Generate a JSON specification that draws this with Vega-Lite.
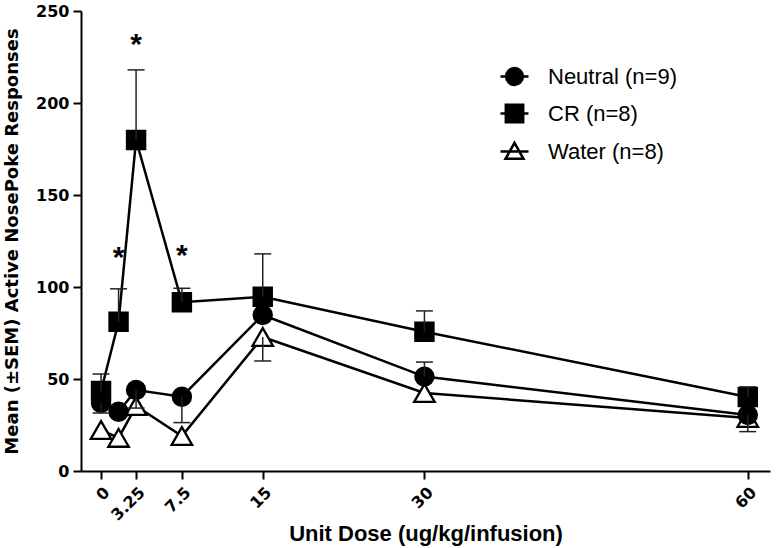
{
  "$schema": "https://vega.github.io/schema/vega-lite/v6.json",
  "width": 689,
  "height": 460,
  "autosize": {"type": "none"},
  "padding": {"left": 81, "top": 11, "right": 6, "bottom": 77},
  "background": "white",
  "config": {"view": {"stroke": null}, "font": "Liberation Sans"},
  "datasets": {
    "pts": [
      {"series": "Water (n=8)", "dose": 0, "mean": 22.3, "err": null},
      {"series": "Water (n=8)", "dose": 1.625, "mean": 18, "err": null},
      {"series": "Water (n=8)", "dose": 3.25, "mean": 35.3, "err": null},
      {"series": "Water (n=8)", "dose": 7.5, "mean": 19, "err": null},
      {"series": "Water (n=8)", "dose": 15, "mean": 72.8, "err": 59.8},
      {"series": "Water (n=8)", "dose": 30, "mean": 42.4, "err": null},
      {"series": "Water (n=8)", "dose": 60, "mean": 28.8, "err": null},
      {"series": "CR (n=8)", "dose": 0, "mean": 43.5, "err": 52.7},
      {"series": "CR (n=8)", "dose": 1.625, "mean": 81.1, "err": 99},
      {"series": "CR (n=8)", "dose": 3.25, "mean": 179.9, "err": 218},
      {"series": "CR (n=8)", "dose": 7.5, "mean": 91.7, "err": 99.3},
      {"series": "CR (n=8)", "dose": 15, "mean": 94.7, "err": 118},
      {"series": "CR (n=8)", "dose": 30, "mean": 75.7, "err": 87},
      {"series": "CR (n=8)", "dose": 60, "mean": 40.2, "err": 45.7},
      {"series": "Neutral (n=9)", "dose": 0, "mean": 37, "err": 31.5},
      {"series": "Neutral (n=9)", "dose": 1.625, "mean": 32.2, "err": null},
      {"series": "Neutral (n=9)", "dose": 3.25, "mean": 44, "err": 34.2},
      {"series": "Neutral (n=9)", "dose": 7.5, "mean": 40.4, "err": 26.3},
      {"series": "Neutral (n=9)", "dose": 15, "mean": 84.8, "err": null},
      {"series": "Neutral (n=9)", "dose": 30, "mean": 51.3, "err": 59.2},
      {"series": "Neutral (n=9)", "dose": 60, "mean": 30.4, "err": 21.4}
    ],
    "stars": [
      {"dose": 1.625, "mean": 119, "label": "*"},
      {"dose": 3.25, "mean": 234.6, "label": "*"},
      {"dose": 7.5, "mean": 120, "label": "*"}
    ]
  },
  "layer": [
    {
      "data": {"name": "pts"},
      "mark": {"type": "line", "color": "black", "strokeWidth": 2.5},
      "encoding": {
        "x": {
          "field": "dose", "type": "quantitative",
          "scale": {"domain": [-1.86, 62.06], "nice": false, "zero": false},
          "axis": {
            "values": [0, 3.25, 7.5, 15, 30, 60],
            "labelExpr": "'' + datum.value",
            "labelAngle": -45,
            "labelOverlap": false,
            "labelFlush": false,
            "labelFont": "DejaVu Sans",
            "labelFontSize": 16,
            "labelFontWeight": "bold",
            "labelColor": "black",
            "labelPadding": 5,
            "tickSize": 8,
            "tickWidth": 2,
            "tickColor": "black",
            "domainColor": "black",
            "domainWidth": 2,
            "grid": false,
            "title": "Unit Dose (ug/kg/infusion)",
            "titleFont": "Liberation Sans",
            "titleFontSize": 22,
            "titleFontWeight": "bold",
            "titleColor": "black",
            "titleBaseline": "alphabetic",
            "titleY": 69
          }
        },
        "y": {
          "field": "mean", "type": "quantitative",
          "scale": {"domain": [0, 250], "nice": false},
          "axis": {
            "values": [0, 50, 100, 150, 200, 250],
            "labelFont": "DejaVu Sans",
            "labelFontSize": 16,
            "labelFontWeight": "bold",
            "labelColor": "black",
            "labelPadding": 4,
            "tickSize": 8,
            "tickWidth": 2,
            "tickColor": "black",
            "domainColor": "black",
            "domainWidth": 2,
            "grid": false,
            "title": "Mean (±SEM) Active NosePoke Responses",
            "titleFont": "DejaVu Sans",
            "titleFontSize": 18,
            "titleFontWeight": "bold",
            "titleColor": "black",
            "titleBaseline": "alphabetic",
            "titleX": -64
          }
        },
        "detail": {"field": "series"},
        "order": {"field": "dose"}
      }
    },
    {
      "data": {"name": "pts"},
      "transform": [{"filter": "datum.series === 'Water (n=8)'"}],
      "mark": {"type": "point", "shape": "triangle-up", "fill": "white", "opacity": 1, "stroke": "black", "strokeWidth": 2.3, "size": 420},
      "encoding": {
        "x": {"field": "dose", "type": "quantitative"},
        "y": {"field": "mean", "type": "quantitative"}
      }
    },
    {
      "data": {"name": "pts"},
      "transform": [{"filter": "datum.series === 'CR (n=8)'"}],
      "mark": {"type": "point", "shape": "square", "filled": true, "fill": "black", "opacity": 1, "stroke": "black", "strokeWidth": 2, "size": 340},
      "encoding": {
        "x": {"field": "dose", "type": "quantitative"},
        "y": {"field": "mean", "type": "quantitative"}
      }
    },
    {
      "data": {"name": "pts"},
      "transform": [{"filter": "datum.series === 'Neutral (n=9)'"}],
      "mark": {"type": "point", "shape": "circle", "filled": true, "fill": "black", "opacity": 1, "stroke": "black", "strokeWidth": 2, "size": 340},
      "encoding": {
        "x": {"field": "dose", "type": "quantitative"},
        "y": {"field": "mean", "type": "quantitative"}
      }
    },
    {
      "data": {"name": "pts"},
      "transform": [{"filter": "datum.err != null"}],
      "mark": {"type": "rule", "color": "#222", "strokeWidth": 1.5},
      "encoding": {
        "x": {"field": "dose", "type": "quantitative"},
        "y": {"field": "mean", "type": "quantitative"},
        "y2": {"field": "err"}
      }
    },
    {
      "data": {"name": "pts"},
      "transform": [{"filter": "datum.err != null"}],
      "mark": {"type": "tick", "orient": "horizontal", "size": 17, "thickness": 1.5, "color": "#222", "opacity": 1},
      "encoding": {
        "x": {"field": "dose", "type": "quantitative"},
        "y": {"field": "err", "type": "quantitative"}
      }
    },
    {
      "data": {"name": "stars"},
      "mark": {"type": "text", "fontSize": 30, "fontWeight": "bold", "color": "black", "baseline": "middle", "dy": 6},
      "encoding": {
        "x": {"field": "dose", "type": "quantitative"},
        "y": {"field": "mean", "type": "quantitative"},
        "text": {"field": "label"}
      }
    },
    {
      "data": {"name": "pts"},
      "transform": [{"filter": "false"}],
      "mark": {"type": "point", "filled": false, "opacity": 1, "stroke": "black", "strokeWidth": 2.5},
      "encoding": {
        "x": {"field": "dose", "type": "quantitative"},
        "y": {"field": "mean", "type": "quantitative"},
        "shape": {
          "field": "series", "type": "nominal",
          "scale": {
            "domain": ["Neutral (n=9)", "CR (n=8)", "Water (n=8)"],
            "range": [
              "M-1,0H1M0.6,0A0.6,0.6 0 1,1 -0.6,0A0.6,0.6 0 1,1 0.6,0Z",
              "M-1,0H1M-0.62,-0.62H0.62V0.62H-0.62Z",
              "M-1,0H1M0,-0.62L0.64,0.52L-0.64,0.52Z"
            ]
          },
          "legend": {
            "title": null, "orient": "none", "legendX": 418, "legendY": 50, "padding": 0,
            "symbolSize": 784, "symbolStrokeColor": "black", "symbolStrokeWidth": 2.5, "symbolOpacity": 1,
            "labelFont": "Liberation Sans", "labelFontSize": 22, "labelColor": "black", "labelOffset": 18,
            "rowPadding": 8, "labelLimit": 300,
            "encode": {"symbols": {"update": {"stroke": {"value": "black"}, "strokeWidth": {"value": 2.5}}}}
          }
        },
        "fill": {
          "field": "series", "type": "nominal",
          "scale": {"domain": ["Neutral (n=9)", "CR (n=8)", "Water (n=8)"], "range": ["black", "black", "white"]},
          "legend": {
            "title": null, "orient": "none", "legendX": 418, "legendY": 50, "padding": 0,
            "symbolSize": 784, "symbolStrokeColor": "black", "symbolStrokeWidth": 2.5, "symbolOpacity": 1,
            "labelFont": "Liberation Sans", "labelFontSize": 22, "labelColor": "black", "labelOffset": 18,
            "rowPadding": 8, "labelLimit": 300,
            "encode": {"symbols": {"update": {"stroke": {"value": "black"}, "strokeWidth": {"value": 2.5}}}}
          }
        }
      }
    }
  ]
}
